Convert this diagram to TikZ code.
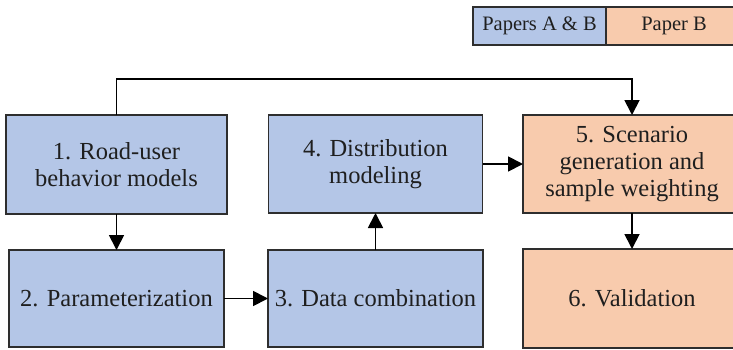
\documentclass[tikz,border=0pt]{standalone}
\usepackage{fontspec}
\setmainfont{Liberation Serif}
\usetikzlibrary{arrows.meta}
\definecolor{pblue}{HTML}{B4C6E7}
\definecolor{porange}{HTML}{F8CBAD}
\definecolor{bord}{HTML}{2E2E2E}
\begin{document}
\begin{tikzpicture}[x=1pt,y=-1pt,
  box/.style={draw=bord,line width=1.6pt,inner sep=0pt,outer sep=0pt,align=center,
    font=\fontsize{24.5}{27}\selectfont,text=black!88},
  bluebox/.style={box,fill=pblue},
  orangebox/.style={box,fill=porange},
  legbox/.style={draw=bord,line width=1.6pt,inner sep=0pt,outer sep=0pt,
    font=\fontsize{20.5}{22}\selectfont,text=black!88},
  conn/.style={line width=1.8pt,-{Triangle[width=15pt,length=15pt]}}]
\useasboundingbox (0,0) rectangle (733,349);
% legend
\node[legbox,fill=pblue,minimum width=133pt,minimum height=38pt] (la) at (539.5,26) {Papers A \& B};
\node[legbox,fill=porange,minimum width=136pt,minimum height=38pt] (lb) at (674,26) {Paper B};
% boxes
\node[bluebox,minimum width=221pt,minimum height=99pt] (b1) at (116.5,164.5) {1. Road-user\\behavior models};
\node[bluebox,minimum width=215pt,minimum height=97pt] (b2) at (116.5,298.5) {2. Parameterization};
\node[bluebox,minimum width=215pt,minimum height=97pt] (b3) at (375.5,298.5) {3. Data combination};
\node[bluebox,minimum width=214pt,minimum height=98pt] (b4) at (375.5,164) {4. Distribution\\modeling};
\node[orangebox,minimum width=218pt,minimum height=98pt] (b5) at (632,164) {5. Scenario\\generation and\\sample weighting};
\node[orangebox,minimum width=218pt,minimum height=99pt] (b6) at (632,298.5) {6. Validation};
% connectors
\draw[conn] (b1.south) -- (b2.north);
\draw[conn] (b2.east) -- (b3.west);
\draw[conn] (b3.north) -- (b4.south);
\draw[conn] (b4.east) -- (b5.west);
\draw[conn] (b5.south) -- (b6.north);
\draw[conn] (b1.north) -- ++(0,-36) -| (b5.north);
\end{tikzpicture}
\end{document}
